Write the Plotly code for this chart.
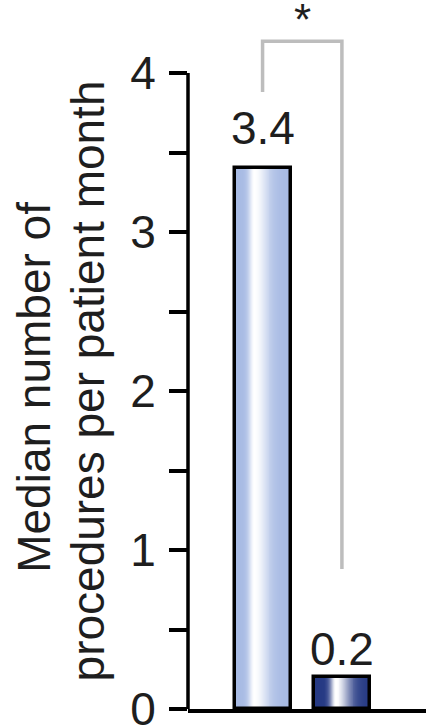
import math
import plotly.graph_objects as go

# Data
groups = ["A", "B"]
values = [3.4, 0.2]
value_labels = ["3.4", "0.2"]
y_ticks = [0, 1, 2, 3, 4]
y_tick_labels = ["0", "1", "2", "3", "4"]
bracket_x = [0, 0, 1, 1]
bracket_y = [3.88, 4.20, 4.20, 0.88]
signif_text = "*"

# Styling
base_colors = [(168, 187, 228), (38, 58, 132)]
highlight_pos = [0.36, 0.40]
bar_width = 0.706
n_strips = 60
font_family = "Liberation Sans, Arial, sans-serif"
text_color = "#1e1e1e"


def shade(base, t, h):
    """Cylinder-like shading: white highlight at h, fading to base colour."""
    w = 0.10 if t < h else 0.26
    f = math.exp(-((t - h) / w) ** 2)
    r, g, b = (int(round(c + (255 - c) * f)) for c in base)
    return f"rgb({r},{g},{b})"


fig = go.Figure()

# Shaded fill: each bar is drawn as a row of thin vertical strips
for i, v in enumerate(values):
    step = bar_width / n_strips
    xs = [i - bar_width / 2 + (k + 0.5) * step for k in range(n_strips)]
    cols = [shade(base_colors[i], (k + 0.5) / n_strips, highlight_pos[i]) for k in range(n_strips)]
    fig.add_trace(go.Bar(
        x=xs, y=[v] * n_strips, width=step * 1.15,
        marker=dict(color=cols, line=dict(width=0)),
        hoverinfo="skip", showlegend=False,
    ))

# Black outline of each bar
fig.add_trace(go.Bar(
    x=list(range(len(groups))), y=values, width=bar_width,
    marker=dict(color="rgba(0,0,0,0)", line=dict(color="black", width=3.5)),
    showlegend=False, hovertext=groups,
))

# Significance bracket
fig.add_trace(go.Scatter(
    x=bracket_x, y=bracket_y, mode="lines",
    line=dict(color="#bdbdbd", width=3.5),
    hoverinfo="skip", showlegend=False,
))

# Value labels above bars
label_shift = [12, 0]
for i, (v, t) in enumerate(zip(values, value_labels)):
    fig.add_annotation(x=i, y=v, text=t, showarrow=False, yanchor="bottom",
                       yshift=label_shift[i],
                       font=dict(family=font_family, size=46, color=text_color))

# Significance marker
fig.add_annotation(x=sum(bracket_x) / len(bracket_x), y=max(bracket_y), text=signif_text,
                   showarrow=False, yanchor="middle", yshift=22,
                   font=dict(family=font_family, size=44, color=text_color))

# Two-line y-axis title
title_lines = ["Median number of", "procedures per patient month"]
title_xshift = [-154, -100]
title_y = [0.453, 0.462]
for line, xs, yy in zip(title_lines, title_xshift, title_y):
    fig.add_annotation(x=0, y=yy, xref="paper", yref="paper", text=line,
                       textangle=-90, showarrow=False, xanchor="center",
                       yanchor="middle", xshift=xs,
                       font=dict(family=font_family, size=46, color=text_color))

# Y axis line only spans the labelled range
fig.add_shape(type="line", xref="paper", yref="y", x0=0, x1=0, y0=0, y1=max(y_ticks),
              line=dict(color="black", width=3.5))

fig.update_layout(
    width=426, height=725,
    margin=dict(l=188, r=0, t=0, b=16, autoexpand=False),
    paper_bgcolor="white", plot_bgcolor="white",
    barmode="overlay", bargap=0,
    showlegend=False,
)
fig.update_xaxes(range=[-0.94, 2.06], showgrid=False, zeroline=False,
                 showline=True, linecolor="black", linewidth=3.5,
                 showticklabels=False, ticks="", automargin=False)
fig.update_yaxes(range=[0, 709 / 159], showgrid=False, zeroline=False, showline=False,
                 automargin=False,
                 tickmode="array", tickvals=y_ticks, ticktext=y_tick_labels,
                 ticks="outside", ticklen=18, tickwidth=3.5, tickcolor="black",
                 ticklabelstandoff=4, ticklabeloverflow="allow",
                 minor=dict(ticks="outside", ticklen=18, tickwidth=3.5, tickcolor="black", dtick=0.5, tick0=0),
                 tickfont=dict(family=font_family, size=46, color=text_color))

fig.write_html("out.html")
